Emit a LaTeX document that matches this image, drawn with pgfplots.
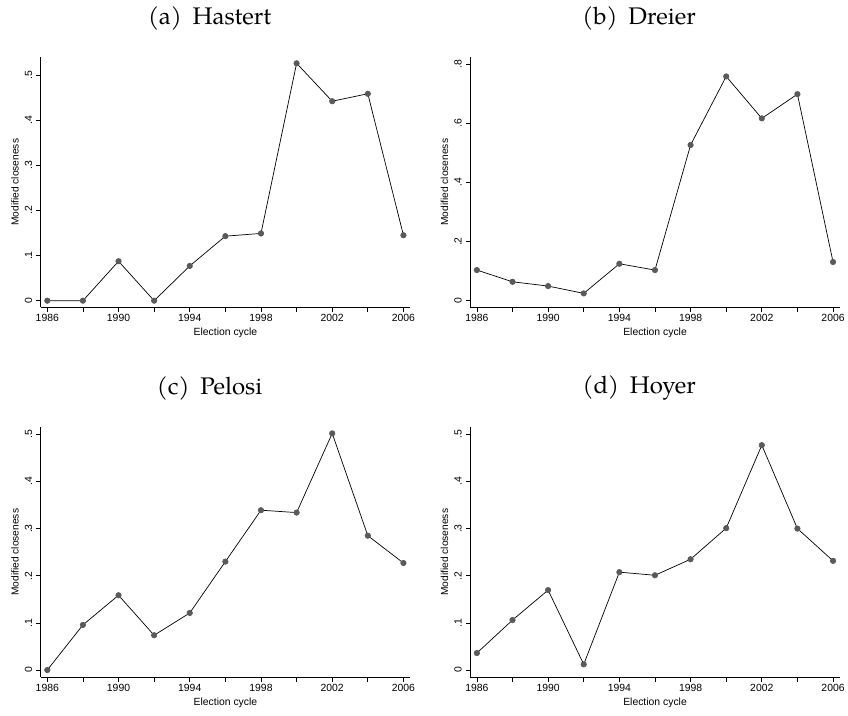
\documentclass[border=0pt]{standalone}
\usepackage{fontspec}
\setmainfont{Liberation Sans}
\newfontfamily\pal{TeX Gyre Pagella}
\usepackage{pgfplots}
\pgfplotsset{compat=1.18}
\definecolor{mk}{RGB}{90,90,90}
\pgfplotsset{
 stata/.style={
   scale only axis, width=369.5pt, height=249.7pt,
   axis x line*=bottom, axis y line*=left,
   xmin=1985.63, xmax=2006.38,
   xtick={1986,1988,1990,1992,1994,1996,1998,2000,2002,2004,2006},
   xticklabels={1986,,1990,,1994,,1998,,2002,,2006},
   tick align=outside, major tick length=4.7pt,
   every tick/.style={black, line width=0.7pt},
   axis line style={black, line width=0.7pt},
   tick label style={font=\fontsize{10.4}{12}\selectfont},
   /pgf/number format/assume math mode=true,
   xticklabel style={anchor=north, inner sep=0pt, yshift=-2.6pt},
   yticklabel style={xshift=-3.7pt, rotate=90, anchor=south, inner sep=0pt},
   xlabel={Election cycle}, ylabel={Modified closeness},
   xlabel style={at={(axis description cs:0.5,-0.1053)}, anchor=center, font=\fontsize{10.4}{12}\selectfont},
   ylabel style={at={(axis description cs:-0.0696,0.5)}, anchor=center, font=\fontsize{10.2}{12}\selectfont},
   title style={at={(axis description cs:0.457,1.132)}, anchor=center, font=\pal\fontsize{24}{28}\selectfont},
   clip=false,
 },
 pl/.style={black, line width=0.7pt, mark=*, mark size=2.7pt, mark options={fill=mk, draw=mk}},
}
\begin{document}
\begin{tikzpicture}
\useasboundingbox (0,0) rectangle (848pt,-715pt);
% (a) Hastert
\begin{axis}[stata, at={(40.7pt,-307pt)}, anchor=south west,
  ymin=-0.014, ymax=0.5393,
  ytick={0,0.1,0.2,0.3,0.4,0.5}, yticklabels={0,.1,.2,.3,.4,.5},
  title={(a)\hspace{0.45em}Hastert}]
\addplot[pl] coordinates {
(1986,0) (1988,0) (1990,0.0874) (1992,0) (1994,0.077) (1996,0.143)
(1998,0.149) (2000,0.526) (2002,0.442) (2004,0.4585) (2006,0.145)};
\end{axis}
% (b) Dreier
\begin{axis}[stata, at={(470.3pt,-307pt)}, anchor=south west,
  ymin=-0.0213, ymax=0.8237,
  ytick={0,0.2,0.4,0.6,0.8}, yticklabels={0,.2,.4,.6,.8},
  title={(b)\hspace{0.45em}Dreier}]
\addplot[pl] coordinates {
(1986,0.1037) (1988,0.064) (1990,0.0496) (1992,0.0248) (1994,0.125) (1996,0.1037)
(1998,0.527) (2000,0.759) (2002,0.617) (2004,0.699) (2006,0.131)};
\end{axis}
% (c) Pelosi
\begin{axis}[stata, at={(40.7pt,-677pt)}, anchor=south west,
  ymin=-0.01485, ymax=0.5149,
  ytick={0,0.1,0.2,0.3,0.4,0.5}, yticklabels={0,.1,.2,.3,.4,.5},
  title={(c)\hspace{0.45em}Pelosi}]
\addplot[pl] coordinates {
(1986,0) (1988,0.0956) (1990,0.1586) (1992,0.0737) (1994,0.121) (1996,0.230)
(1998,0.339) (2000,0.334) (2002,0.502) (2004,0.285) (2006,0.227)};
\end{axis}
% (d) Hoyer
\begin{axis}[stata, at={(470.3pt,-677pt)}, anchor=south west,
  ymin=-0.01485, ymax=0.5149,
  ytick={0,0.1,0.2,0.3,0.4,0.5}, yticklabels={0,.1,.2,.3,.4,.5},
  title={(d)\hspace{0.45em}Hoyer}]
\addplot[pl] coordinates {
(1986,0.036) (1988,0.106) (1990,0.1695) (1992,0.012) (1994,0.2076) (1996,0.201)
(1998,0.235) (2000,0.301) (2002,0.477) (2004,0.300) (2006,0.2316)};
\end{axis}
\end{tikzpicture}
\end{document}
